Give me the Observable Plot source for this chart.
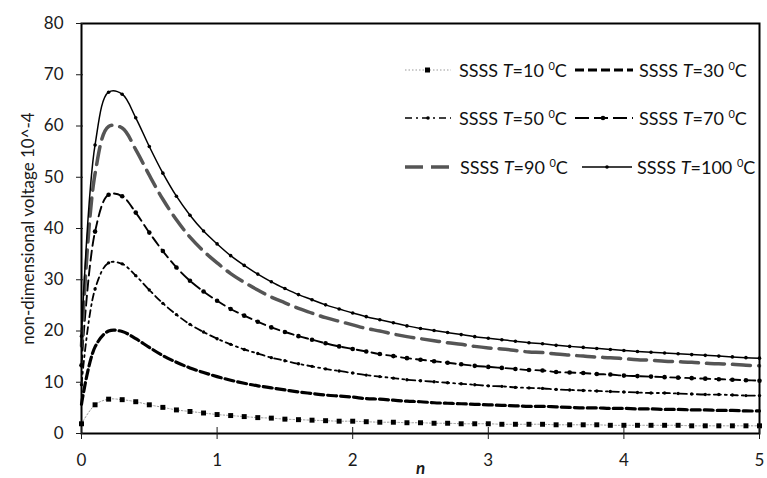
<!DOCTYPE html>
<html>
<head>
<meta charset="utf-8">
<script src="https://cdn.jsdelivr.net/npm/d3@7"></script>
<script src="https://cdn.jsdelivr.net/npm/@observablehq/plot@0.6"></script>
<style>
  html, body { margin: 0; padding: 0; background: #fff; }
  #wrap { position: relative; width: 767px; height: 478px; overflow: hidden; font-family: Lato, "Open Sans", sans-serif; }
  #wrap svg [aria-label="x-axis label"] text { font-style: italic; font-weight: bold; }
  .leg { position: absolute; display: flex; align-items: center; font-size: 18px; color: #111; white-space: nowrap; }
  .leg svg { margin-right: 4px; }
  .leg sup { font-size: 11px; vertical-align: 7px; }
</style>
</head>
<body>
<div id="wrap"></div>
<script>
const n = [0,0.1,0.2,0.3,0.4,0.5,0.6,0.7,0.8,0.9,1.0,1.1,1.2,1.3,1.4,1.5,1.6,1.7,1.8,1.9,2.0,2.1,2.2,2.3,2.4,2.5,2.6,2.7,2.8,2.9,3.0,3.1,3.2,3.3,3.4,3.5,3.6,3.7,3.8,3.9,4.0,4.1,4.2,4.3,4.4,4.5,4.6,4.7,4.8,4.9,5.0];

const t10 = [1.9,5.6,6.7,6.6,6.2,5.6,5.1,4.6,4.3,4.0,3.7,3.5,3.3,3.1,3.0,2.8,2.7,2.6,2.5,2.4,2.4,2.3,2.2,2.2,2.1,2.1,2.0,2.0,1.9,1.9,1.9,1.8,1.8,1.8,1.8,1.7,1.7,1.7,1.7,1.6,1.6,1.6,1.6,1.6,1.6,1.5,1.5,1.5,1.5,1.5,1.5];
const t30 = [5.7,16.9,20.0,19.9,18.5,16.8,15.2,13.9,12.8,11.9,11.1,10.4,9.8,9.3,8.9,8.5,8.1,7.8,7.5,7.3,7.1,6.8,6.7,6.5,6.3,6.2,6.0,5.9,5.8,5.7,5.6,5.5,5.4,5.3,5.3,5.2,5.1,5.0,5.0,4.9,4.9,4.8,4.8,4.7,4.7,4.6,4.6,4.5,4.5,4.4,4.4];
const t50 = [9.5,28.2,33.3,33.1,30.8,28.0,25.4,23.2,21.3,19.8,18.5,17.4,16.4,15.6,14.8,14.2,13.6,13.1,12.6,12.2,11.8,11.4,11.1,10.8,10.5,10.3,10.1,9.9,9.7,9.5,9.3,9.2,9.0,8.9,8.8,8.6,8.5,8.4,8.3,8.2,8.1,8.0,7.9,7.9,7.8,7.7,7.6,7.6,7.5,7.4,7.4];
const t70 = [13.3,39.4,46.6,46.3,43.1,39.2,35.6,32.4,29.8,27.7,25.9,24.3,23.0,21.8,20.7,19.8,19.0,18.3,17.6,17.0,16.5,16.0,15.5,15.1,14.7,14.4,14.1,13.8,13.5,13.2,13.0,12.8,12.6,12.4,12.3,12.0,11.9,11.8,11.6,11.5,11.3,11.2,11.1,11.0,10.9,10.8,10.7,10.6,10.5,10.4,10.3];
const t90 = [17.1,50.7,59.9,59.6,55.4,50.4,45.7,41.7,38.3,35.6,33.3,31.2,29.5,28.0,26.6,25.5,24.4,23.5,22.6,21.9,21.2,20.5,20.0,19.4,18.9,18.5,18.1,17.7,17.4,17.0,16.7,16.5,16.2,15.9,15.8,15.5,15.3,15.1,14.9,14.8,14.6,14.4,14.3,14.1,14.0,13.9,13.7,13.6,13.5,13.3,13.2];
const t100 = [19.0,56.3,66.6,66.2,61.6,56.0,50.8,46.3,42.6,39.5,37.0,34.7,32.8,31.1,29.6,28.3,27.1,26.1,25.1,24.3,23.5,22.8,22.2,21.6,21.0,20.5,20.1,19.7,19.3,18.9,18.6,18.3,18.0,17.7,17.5,17.2,17.0,16.8,16.6,16.4,16.2,16.0,15.85,15.7,15.55,15.4,15.25,15.1,14.95,14.8,14.7];

const xTicks = [0,1,2,3,4,5];
const yTicks = [0,10,20,30,40,50,60,70,80];
const seriesLabels = ["10","30","50","70","90","100"];

const rows = vals => n.map((x, i) => ({x, y: vals[i]}));
const d10 = rows(t10), d30 = rows(t30), d50 = rows(t50), d70 = rows(t70), d90 = rows(t90), d100 = rows(t100);
const curve = "catmull-rom";

const chart = Plot.plot({
  width: 767,
  height: 478,
  marginLeft: 81,
  marginRight: 8,
  marginTop: 23,
  marginBottom: 45,
  style: {fontFamily: "Lato, 'Open Sans', sans-serif", fontSize: "17px", color: "#1a1a1a", background: "#fff", overflow: "visible"},
  x: {domain: [0, 5]},
  y: {domain: [0, 80]},
  marks: [
    Plot.line(d10, {x: "x", y: "y", curve, stroke: "#999", strokeWidth: 1, strokeDasharray: "1.5,2"}),
    Plot.dot(d10, {x: "x", y: "y", symbol: "square", r: 2.8, fill: "#000", stroke: "none"}),
    Plot.line(d30, {x: "x", y: "y", curve, stroke: "#000", strokeWidth: 3.2, strokeDasharray: "9,4"}),
    Plot.line(d50, {x: "x", y: "y", curve, stroke: "#000", strokeWidth: 1.8, strokeDasharray: "7,4,2,4"}),
    Plot.dot(d50, {x: "x", y: "y", r: 1.7, fill: "#000", stroke: "none"}),
    Plot.line(d70, {x: "x", y: "y", curve, stroke: "#000", strokeWidth: 1.9, strokeDasharray: "10,5"}),
    Plot.dot(d70, {x: "x", y: "y", r: 2.3, fill: "#000", stroke: "none"}),
    Plot.line(d90, {x: "x", y: "y", curve, stroke: "#555", strokeWidth: 3.5, strokeDasharray: "18,8"}),
    Plot.line(d100, {x: "x", y: "y", curve, stroke: "#000", strokeWidth: 1.5}),
    Plot.dot(d100, {x: "x", y: "y", r: 1.8, fill: "#000", stroke: "none"}),
    Plot.frame({stroke: "#000", strokeWidth: 2}),
    Plot.axisX({ticks: xTicks, tickSize: 6, tickPadding: 14, tickFormat: d => String(d), label: "n", labelAnchor: "center", labelArrow: "none", labelOffset: 40, fontSize: 17}),
    Plot.axisX({ticks: xTicks, tickSize: -6, tickFormat: () => "", label: null}),
    Plot.axisY({ticks: yTicks, tickSize: 5, tickPadding: 13, tickFormat: d => String(d), label: "non-dimensional voltage 10^-4", labelAnchor: "center", labelArrow: "none", labelOffset: 60, fontSize: 17}),
    Plot.axisY({ticks: yTicks, tickSize: -2, tickFormat: () => "", label: null})
  ]
});

const wrap = document.getElementById("wrap");
wrap.appendChild(chart);

// Legend overlay
const samples = {
  "10": `<line x1="2" y1="6" x2="48" y2="6" stroke="#999" stroke-width="1" stroke-dasharray="1.5,2"/><rect x="22" y="3.5" width="5" height="5" fill="#000"/>`,
  "30": `<line x1="2" y1="6" x2="60" y2="6" stroke="#000" stroke-width="3.2" stroke-dasharray="9,4"/>`,
  "50": `<line x1="2" y1="6" x2="48" y2="6" stroke="#000" stroke-width="1.6" stroke-dasharray="7,4,2,4"/><circle cx="25" cy="6" r="1.8" fill="#000"/>`,
  "70": `<line x1="2" y1="6" x2="60" y2="6" stroke="#000" stroke-width="1.8" stroke-dasharray="14,5"/><circle cx="30" cy="6" r="2.3" fill="#000"/>`,
  "90": `<line x1="2" y1="6" x2="52" y2="6" stroke="#555" stroke-width="3.5" stroke-dasharray="18,8"/>`,
  "100": `<line x1="2" y1="6" x2="52" y2="6" stroke="#000" stroke-width="1.5"/><circle cx="27" cy="6" r="1.8" fill="#000"/>`
};
const legPos = {
  "10": [403, 70, 52], "30": [573, 70, 62],
  "50": [403, 118, 52], "70": [573, 118, 62],
  "90": [403, 167, 53], "100": [580, 167, 53]
};
seriesLabels.forEach(k => {
  const [left, cy, w] = legPos[k];
  const div = document.createElement("div");
  div.className = "leg";
  div.style.left = left + "px";
  div.style.top = (cy - 12) + "px";
  div.style.height = "24px";
  div.innerHTML = `<svg width="${w}" height="12">${samples[k]}</svg><span>SSSS <i>T</i>=${k} <sup>0</sup>C</span>`;
  wrap.appendChild(div);
});
</script>
</body>
</html>
